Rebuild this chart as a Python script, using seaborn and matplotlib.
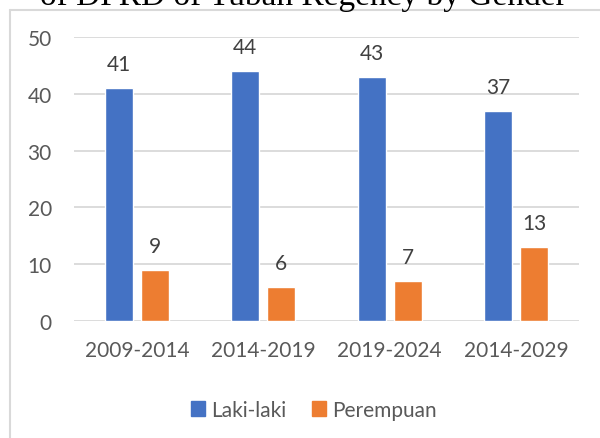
import pandas as pd
import seaborn as sns
import matplotlib.pyplot as plt
from matplotlib.patches import Rectangle

periods = ["2009-2014", "2014-2019", "2019-2024", "2014-2029"]
laki = [41, 44, 43, 37]
perempuan = [9, 6, 7, 13]
groups = ["Laki-laki", "Perempuan"]
colors = ["#4472C4", "#ED7D31"]

df = pd.DataFrame({
    "Periode": periods * 2,
    "Jumlah": laki + perempuan,
    "Gender": [groups[0]] * 4 + [groups[1]] * 4,
})

sns.set_style("white")
plt.rcParams["font.family"] = ["Lato", "DejaVu Sans"]

fig = plt.figure(figsize=(6, 4.39), dpi=100)
ax = fig.add_axes([0.1233, 0.2672, 0.8417, 0.6456])

sns.barplot(data=df, x="Periode", y="Jumlah", hue="Gender", palette=colors,
            width=0.571, gap=0.222, saturation=1, ax=ax, legend=False)

ax.set_ylim(0, 50)
ax.set_xlim(-0.5, 3.5)
ax.set_yticks(range(0, 51, 10))
ax.yaxis.grid(True, color="#D9D9D9", linewidth=1.3)
ax.set_axisbelow(True)
for s in ax.spines.values():
    s.set_visible(False)
ax.set_xlabel("")
ax.set_ylabel("")
ax.tick_params(axis="y", length=0, pad=16, labelsize=15, labelcolor="#595959")
ax.tick_params(axis="x", length=0, pad=14, labelsize=15, labelcolor="#595959")

for c in ax.containers:
    ax.bar_label(c, padding=10, fontsize=15, color="#404040")

handles = [Rectangle((0, 0), 1, 1, color=col) for col in colors]
fig.legend(handles, groups, loc="center", bbox_to_anchor=(0.523, 0.064),
           ncol=2, frameon=False, fontsize=15, labelcolor="#595959",
           handlelength=0.7, handleheight=0.7, handletextpad=0.3,
           columnspacing=1.2)

# chart border (cut off at right and bottom)
fig.add_artist(plt.Line2D([10 / 600, 1], [1 - 10.5 / 439] * 2,
                          color="#D9D9D9", linewidth=1.5, transform=fig.transFigure))
fig.add_artist(plt.Line2D([10 / 600] * 2, [0, 1 - 10.5 / 439],
                          color="#D9D9D9", linewidth=1.5, transform=fig.transFigure))

# caption above, cut by the image edge
fig.text(0.505, 1 - 4.5 / 439, "of DPRD of Tuban Regency by Gender",
         ha="center", va="baseline", fontsize=24, family="Liberation Serif",
         color="black")

fig.savefig("out.png", dpi=100)
